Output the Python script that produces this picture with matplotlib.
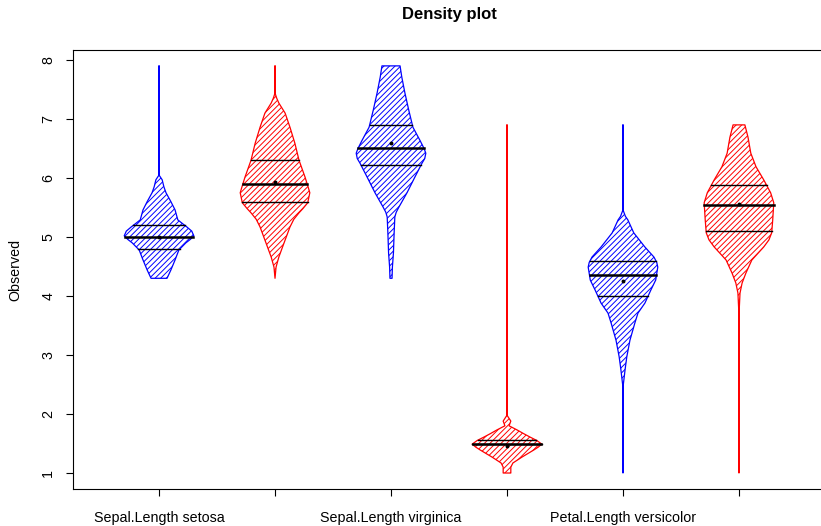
import numpy as np
import matplotlib.pyplot as plt

plt.rcParams['font.family'] = ['Liberation Sans', 'DejaVu Sans']
plt.rcParams['hatch.linewidth'] = 0.7

# groups, alternating colours
groups = ['Sepal.Length setosa', 'Sepal.Length versicolor', 'Sepal.Length virginica',
          'Petal.Length setosa', 'Petal.Length versicolor', 'Petal.Length virginica']
tick_labels = ['Sepal.Length setosa', '', 'Sepal.Length virginica',
               '', 'Petal.Length versicolor', '']
colors = ['blue', 'red', 'blue', 'red', 'blue', 'red']

# density profiles (y value, relative density)
y1 = [7.9, 6.05, 5.97, 5.85, 5.75, 5.6, 5.46, 5.29, 5.22, 5.17, 5.1, 5.02, 4.96, 4.9, 4.78, 4.61, 4.44, 4.3]
d1 = [0, 0, .09, .14, .2, .34, .46, .54, .69, .8, .94, 1, .9, .77, .57, .46, .34, .23]
y2 = [7.9, 7.44, 7.35, 7.27, 7.1, 6.86, 6.59, 6.3, 6.02, 5.85, 5.75, 5.58, 5.48, 5.41, 5.3, 5.17, 4.9, 4.66, 4.49, 4.3]
d2 = [0, 0, .05, .11, .29, .43, .57, .69, .86, .95, 1, .94, .8, .69, .54, .43, .26, .11, .03, 0]
y3 = [7.9, 7.71, 7.44, 7.15, 6.86, 6.75, 6.64, 6.5, 6.42, 6.33, 6.25, 6.02, 5.75, 5.51, 5.42, 5.34, 5.07, 4.73, 4.49, 4.3]
d3 = [.26, .31, .4, .51, .63, .73, .83, .95, 1, .97, .89, .69, .46, .23, .15, .11, .09, .07, .04, .03]
y4 = [6.9, 1.98, 1.88, 1.8, 1.73, 1.67, 1.61, 1.55, 1.49, 1.44, 1.39, 1.27, 1.17, 1.1, 1.0]
d4 = [0, 0, .11, .06, .29, .47, .66, .86, 1, .9, .77, .43, .17, .11, .11]
y5 = [6.9, 5.46, 5.35, 5.29, 5.07, 4.83, 4.66, 4.57, 4.49, 4.27, 4.1, 3.88, 3.71, 3.54, 3.25, 2.97, 2.75, 2.5, 1.0]
d5 = [0, 0, .07, .14, .31, .63, .89, .97, 1, .94, .8, .63, .43, .34, .2, .11, .06, .01, 0]
y6 = [6.9, 6.69, 6.42, 6.19, 5.97, 5.75, 5.58, 5.29, 5.07, 4.95, 4.83, 4.61, 4.39, 4.22, 4.05, 3.8, 1.0]
d6 = [.17, .26, .34, .49, .71, .91, 1, .97, .94, .86, .71, .37, .2, .09, .03, .01, 0]
profiles_y = [y1, y2, y3, y4, y5, y6]
profiles_d = [d1, d2, d3, d4, d5, d6]

# quartiles and means
q1 = [4.8, 5.6, 6.225, 1.49, 4.0, 5.1]
med = [5.0, 5.9, 6.5, 1.5, 4.35, 5.55]
q3 = [5.2, 6.3, 6.9, 1.56, 4.6, 5.875]
means = [5.006, 5.936, 6.588, 1.462, 4.26, 5.552]

half = 0.30   # max half width of a violin

W, H = 821, 526
fig = plt.figure(figsize=(W/100, H/100), dpi=100)
# plot box runs a little past the right edge, as in the reference
ax = fig.add_axes([73.2/W, 36.7/H, 751.6/W, 439.7/H])

for i in range(6):
    x = i + 1
    y = np.array(profiles_y[i])
    w = np.array(profiles_d[i]) * half
    ax.fill_betweenx(y, x - w, x + w, facecolor='none', edgecolor=colors[i],
                     hatch='//////', linewidth=0.9)
    # quartile lines span the violin width
    ys, ws = y[::-1], w[::-1]
    for q, lw in [(q1[i], 1), (q3[i], 1), (med[i], 1.8)]:
        hw = np.interp(q, ys, ws)
        ax.plot([x - hw, x + hw], [q, q], color='black', lw=lw)
    ax.plot(x, means[i], 'o', color='black', ms=1.8)

ax.set_xlim(0.26, 6.74)
ax.set_ylim(0.724, 8.176)
ax.set_xticks(range(1, 7))
ax.set_xticklabels(tick_labels, fontsize=10.3)
ax.set_yticks(range(1, 9))
ax.set_yticklabels([str(v) for v in range(1, 9)], rotation=90, va='center', fontsize=10.3)
ax.tick_params(direction='out', length=5, width=0.8)
ax.tick_params(axis='x', pad=10.5)
ax.tick_params(axis='y', pad=8)

fig.text(15/W, 1 - 269.5/H, 'Observed', rotation=90, ha='center', va='center', fontsize=10.3)
fig.text(449/W, 1 - 15/H, 'Density plot', ha='center', va='center', fontsize=12, fontweight='bold')

plt.savefig('out.png')
